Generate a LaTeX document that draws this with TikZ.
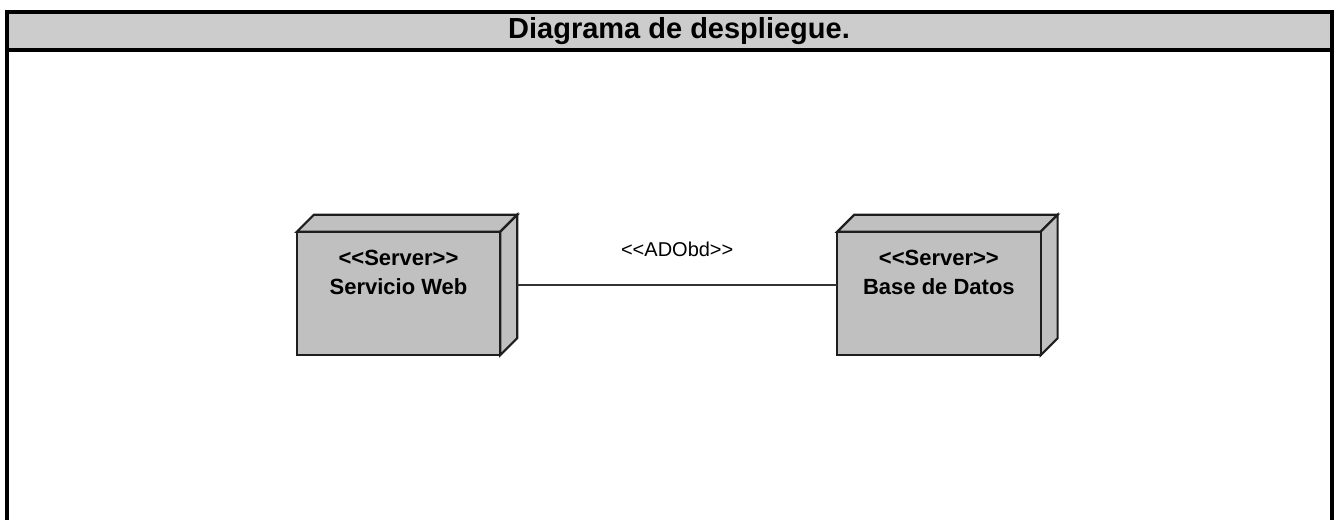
\documentclass[tikz,border=0pt]{standalone}
\usepackage{fontspec}
\setmainfont{Liberation Sans}
\usepackage{tikz}
\usetikzlibrary{positioning}
\definecolor{headgray}{HTML}{CCCCCC}
\definecolor{boxgray}{HTML}{C0C0C0}
\definecolor{edgegray}{HTML}{1E1E1E}
\newcommand{\stereotype}[1]{<{}<#1>{}>}
\tikzset{
    %Define style for the frame
    frame/.style={
           draw=black,
           line width=4pt,
           },
    %Define style for nodes (outer size of the 3D box)
    server/.style={
           rectangle,
           minimum width=220pt,
           minimum height=140pt,
           inner sep=0pt,
           },
    boxline/.style={
           draw=edgegray,
           fill=boxgray,
           line width=2.2pt,
           line join=miter,
           },
    servertext/.style={
           align=center,
           font=\fontsize{22}{29}\selectfont\bfseries,
           inner sep=0pt,
           },
    % Define link style
    link/.style={
           draw=black!80,
           line width=1.6pt,
           },
}

\begin{document}
\begin{tikzpicture}[x=1pt,y=1pt]
\useasboundingbox (0,0) rectangle (1334,-520);

 %frame
\fill[headgray] (7,-12) rectangle (1331.5,-49.5);
\draw[frame] (7,-520) -- (7,-12) -- (1331.5,-12) -- (1331.5,-520);
\draw[frame] (7,-49.5) -- (1331.5,-49.5);
\node[font=\fontsize{29}{34}\selectfont\bfseries] (title) at (679,-31) {Diagrama de despliegue.};

 %nodes
\node[server] (web) at (407,-285) {};
\node[server, right=320pt of web] (db) {};

\foreach \n in {web,db}{
  \draw[boxline] ([yshift=-17pt]\n.north west) -- ([xshift=17pt]\n.north west) -- (\n.north east)
      -- ([xshift=-17pt,yshift=-17pt]\n.north east) -- cycle;
  \draw[boxline] ([xshift=-17pt,yshift=-17pt]\n.north east) -- (\n.north east)
      -- ([yshift=17pt]\n.south east) -- ([xshift=-17pt]\n.south east) -- cycle;
  \draw[boxline] ([yshift=-17pt]\n.north west) rectangle ([xshift=-17pt]\n.south east);
}

\node[servertext, below=35pt of web.north, xshift=-8.5pt] (webtxt) {\stereotype{Server}\\Servicio Web};
\node[servertext, below=35pt of db.north, xshift=-8.5pt] (dbtxt) {\stereotype{Server}\\Base de Datos};

 %link
\draw[link] (web.east) -- node[above=24pt, font=\fontsize{20}{24}\selectfont] (linklbl) {\stereotype{ADObd}} (db.west);

\end{tikzpicture}
\end{document}
